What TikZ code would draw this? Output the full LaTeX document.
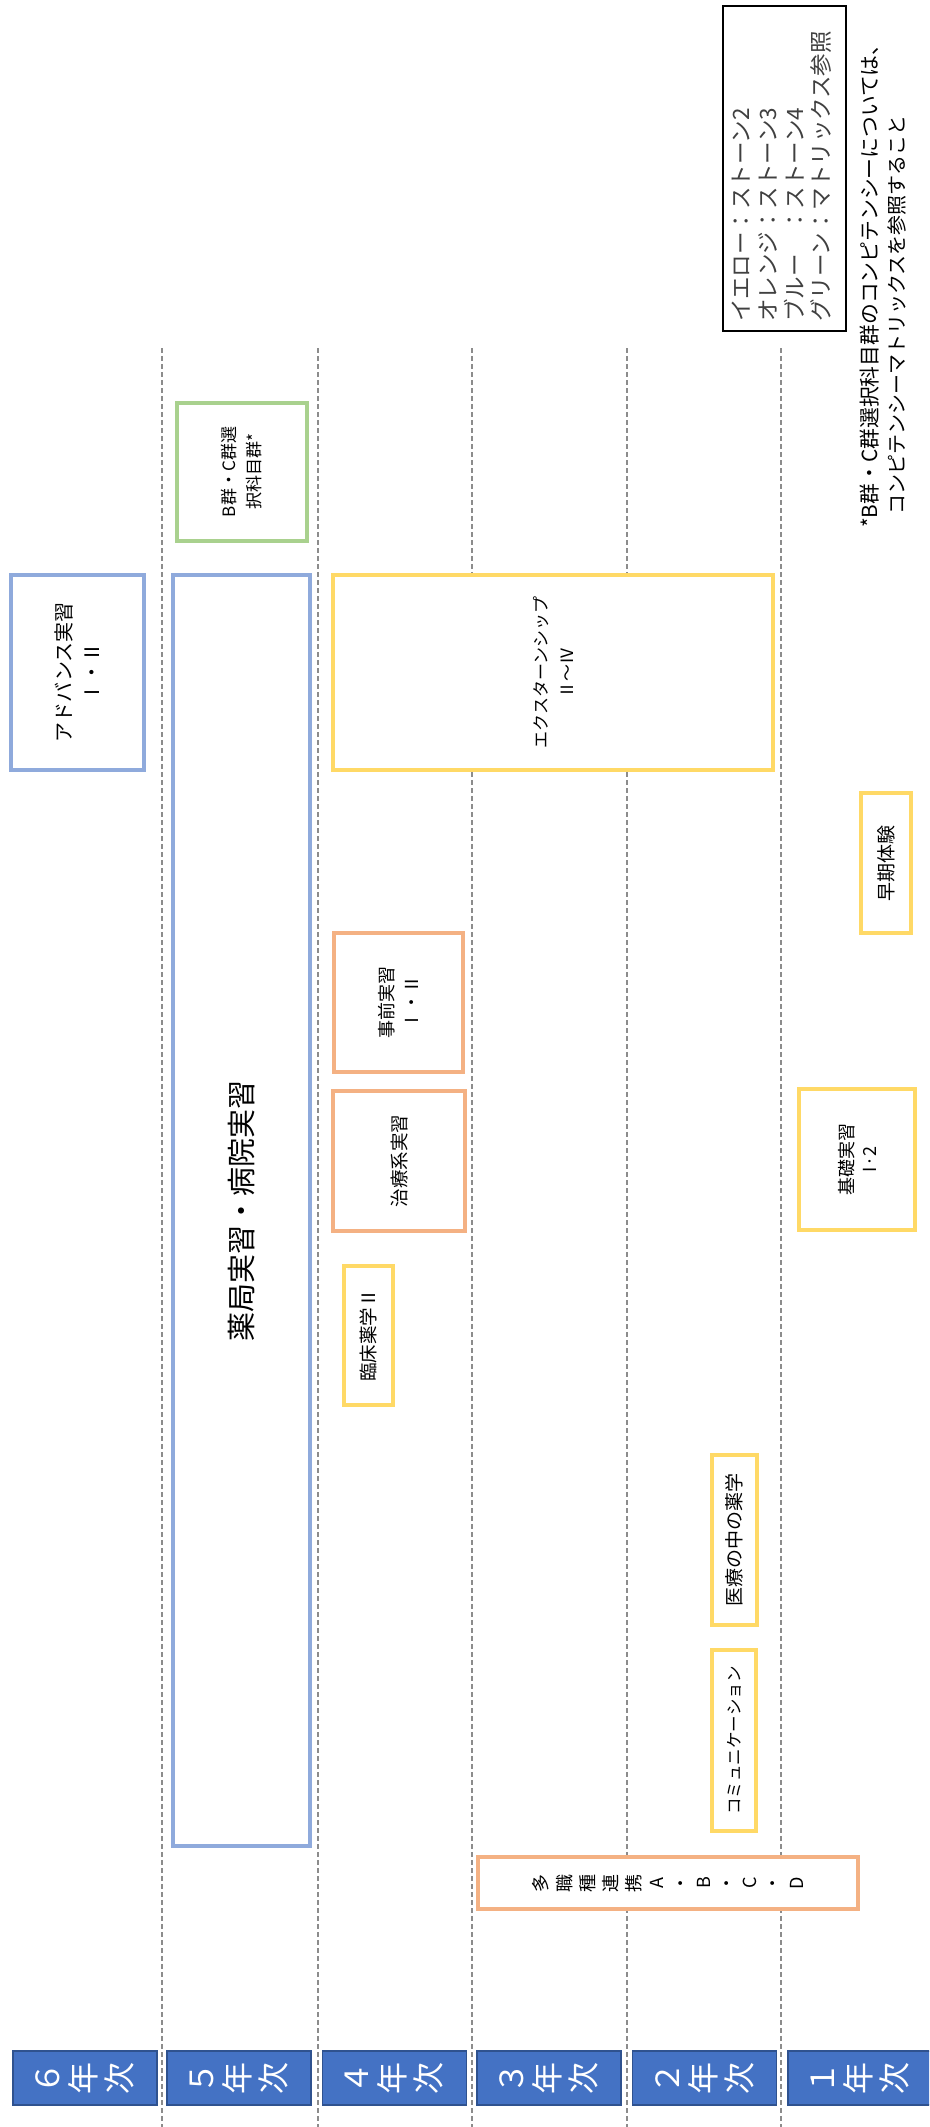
\documentclass[tikz,border=0pt]{standalone}
\usepackage{fontspec}
\newfontfamily\jp{Noto Sans CJK JP}
\definecolor{cBlue}{HTML}{8FAADC}
\definecolor{cOrg}{HTML}{F4B183}
\definecolor{cYel}{HTML}{FFD966}
\definecolor{cGrn}{HTML}{A9D18E}
\definecolor{cYear}{HTML}{4472C4}
\definecolor{cYearB}{HTML}{2F528F}
\definecolor{cGrid}{HTML}{8C8C8C}
\begin{document}
\begin{tikzpicture}[x=1pt,y=-1pt,
  fs/.style 2 args={font=\jp\fontsize{#1}{#2}\selectfont},
  box/.style={rotate=90, draw, fill=white, line width=4pt, inner sep=0pt, align=center, text=black},
  sz/.style 2 args={minimum height=#1pt-4pt, minimum width=#2pt-4pt},
  blu/.style={box, draw=cBlue},
  org/.style={box, draw=cOrg},
  yel/.style={box, draw=cYel},
  grn/.style={box, draw=cGrn},
  yr/.style={rotate=90, draw=cYearB, line width=1.5pt, fill=cYear, text=white, inner sep=0pt, align=center, minimum width=54pt, minimum height=144pt, fs={32}{36}},
  grid/.style={draw=cGrid, line width=1.2pt, dash pattern=on 5pt off 3pt},
  rtext/.style={rotate=90, inner sep=0pt}
]
\useasboundingbox (0,0) rectangle (929,2127);
\fill[white] (0,0) rectangle (929,2127);
\clip (0,0) rectangle (929,2127);

% grid lines
\foreach \i/\x in {1/162,2/318,3/472,4/627,5/781}{
  \coordinate (t\i) at (\x,348);
  \coordinate (b\i) at (\x,2127);
  \draw[grid] (t\i) -- (b\i);
}

% legend
\node[rotate=90, draw=black, line width=2pt, inner sep=0pt, minimum height=123pt, minimum width=325pt] (leg) at (784.5,168.5) {};
\node[rtext, anchor=west, align=left, fs={22.5}{26.7}, text=black!75] (legt) at (782,322) {イエロー：ストーン2\\オレンジ：ストーン3\\ブルー　：ストーン4\\グリーン：マトリックス参照};

% footnote
\node[rtext, anchor=west, fs={20.8}{24}, text=black] (fn1) at (870,528) {*B群・C群選択科目群のコンピテンシーについては、};
\node[rtext, anchor=west, fs={20}{24}, text=black] (fn2) at (897,515) {コンピテンシーマトリックスを参照すること};

% course boxes
\node[blu, sz={137}{199}, fs={20}{28}] (adv) at (77.5,672.5) {アドバンス実習\\Ⅰ・Ⅱ};
\node[blu, sz={141}{1275}, fs={29}{34}] (yak) at (241.5,1210.5) {薬局実習・病院実習};
\node[grn, sz={134}{142}, fs={17}{25}] (bc) at (242,472) {B群・C群選\\択科目群*};
\node[yel, sz={444}{199}, fs={17}{26}] (ext) at (553,672.5) {エクスターンシップ\\Ⅱ～Ⅳ};
\node[org, sz={133}{143}, fs={18}{25}] (jiz) at (398.5,1002.5) {事前実習\\Ⅰ・Ⅱ};
\node[org, sz={136}{144}, fs={18.5}{24}] (chi) at (399,1161) {治療系実習};
\node[yel, sz={53}{143}, fs={18.5}{24}] (rin) at (368.5,1335.5) {臨床薬学Ⅱ};
\node[yel, sz={54}{144}, fs={19}{24}] (sok) at (886,863) {早期体験};
\node[yel, sz={120}{145}, fs={18}{23}] (kis) at (857,1159.5) {基礎実習\\I·2};
\node[yel, sz={49}{174}, fs={19}{24}] (iry) at (734.5,1540) {医療の中の薬学};
\node[yel, sz={48}{185}, fs={16.5}{24}] (com) at (734,1740.5) {コミュニケーション};
\node[org, sz={384}{56}, fs={18}{23.2}] (tas) at (668,1883) {多\\職\\種\\連\\携\\A\\・\\B\\・\\C\\・\\D};

% year labels
\node[yr] (y6) at (85,2078) {６\\年\\次};
\node[yr] (y5) at (239,2078) {５\\年\\次};
\node[yr] (y4) at (394.5,2078) {４\\年\\次};
\node[yr] (y3) at (549,2078) {３\\年\\次};
\node[yr] (y2) at (704.5,2078) {２\\年\\次};
\node[yr] (y1) at (860,2078) {１\\年\\次};
\end{tikzpicture}
\end{document}
